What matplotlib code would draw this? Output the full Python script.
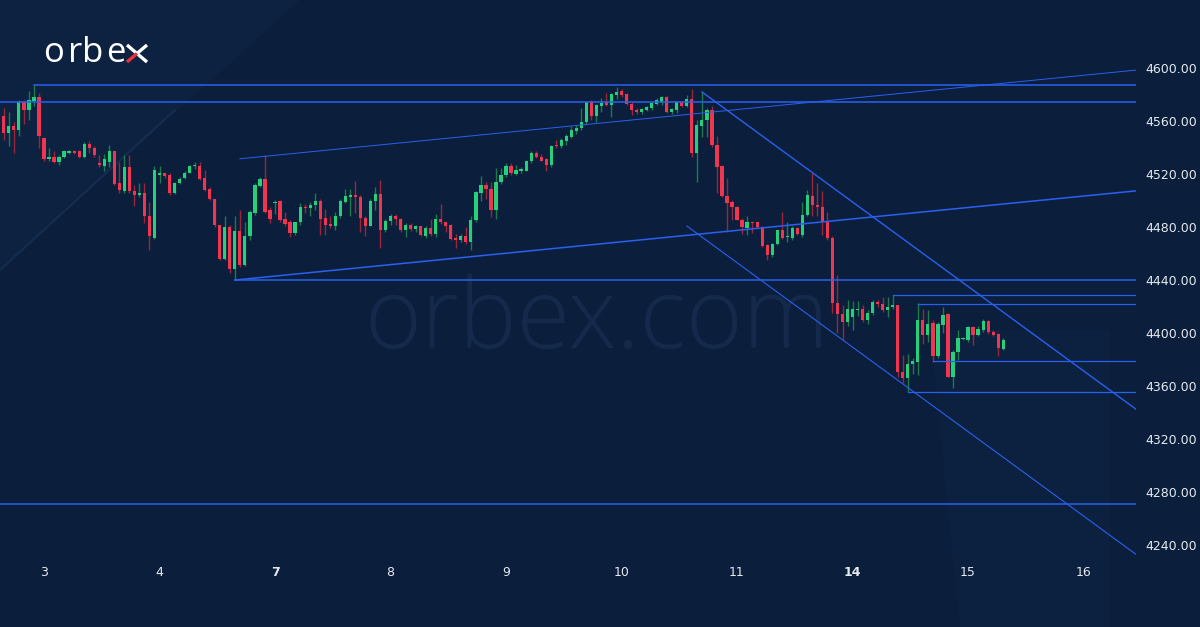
import matplotlib
matplotlib.use('Agg')
import matplotlib.pyplot as plt
from matplotlib.lines import Line2D
import numpy as np

# hourly bars, Feb 2 (partial) .. Feb 15
opens = [4578, 4564, 4551, 4556, 4553, 4574, 4568, 4575, 4578, 4547,
         4531, 4533, 4529, 4533, 4536, 4537, 4537, 4533, 4543, 4540,
         4528, 4526, 4529, 4537, 4513, 4507, 4525, 4507, 4504, 4505.5,
         4488, 4472, 4519.5, 4520.5, 4519, 4506, 4513, 4517, 4521, 4526,
         4526, 4517, 4508.5, 4501.5, 4481.5, 4456, 4480, 4448.5, 4477, 4451.5,
         4473, 4490.5, 4511, 4516, 4492.5, 4498, 4500, 4486, 4483.5, 4475.5,
         4483.5, 4495.5, 4494, 4497, 4499.5, 4487, 4482, 4480.5, 4488, 4499,
         4502.5, 4504.5, 4503, 4487, 4481, 4500, 4505, 4477.5, 4484.5, 4488,
         4486, 4478, 4481.5, 4478.5, 4480.5, 4473, 4479, 4475, 4486, 4483.5,
         4481.5, 4472, 4470.5, 4473, 4469, 4485, 4506, 4511.5, 4509, 4492.5,
         4514, 4519, 4526, 4520, 4522.5, 4522.5, 4530, 4536, 4533, 4531,
         4526.5, 4542, 4541, 4545, 4548, 4552.5, 4554.5, 4559.5, 4574, 4564,
         4571.5, 4574, 4572, 4580, 4583, 4580.5, 4573, 4568.5, 4566.5, 4568.5,
         4569.5, 4573, 4574.5, 4578, 4566.5, 4568.5, 4574, 4571, 4576.5, 4536,
         4556, 4560.5, 4568, 4542, 4526, 4503.5, 4499, 4495.5, 4485.5, 4479.5,
         4483.5, 4483.5, 4480, 4466.5, 4459, 4467, 4477.5, 4472.5, 4472, 4479.5,
         4474, 4489, 4503.5, 4497, 4495.5, 4484, 4472, 4423, 4414.5, 4408.5,
         4412.5, 4417.5, 4418.5, 4410, 4415, 4423.5, 4422, 4417.5, 4419.5, 4421,
         4371, 4366, 4377, 4378.5, 4409.5, 4398.5, 4407.5, 4382.5, 4406, 4414.5,
         4367, 4386, 4395.5, 4394.5, 4404.5, 4398.5, 4402, 4409, 4401, 4399,
         4388]
highs = [4581, 4570, 4567, 4559, 4576, 4576, 4583, 4587, 4581, 4548,
         4540, 4537, 4534, 4538, 4538, 4538, 4538, 4544, 4545, 4541,
         4534, 4535, 4542, 4537.5, 4529, 4534, 4534, 4512, 4513, 4513,
         4499, 4526, 4526, 4521, 4521, 4514, 4517.5, 4522, 4527, 4529,
         4529, 4523, 4510.5, 4501.5, 4481.5, 4488, 4481.5, 4488, 4492.5, 4484,
         4493, 4513, 4517.5, 4534.5, 4495.5, 4500.5, 4500.5, 4491.5, 4485.5, 4484,
         4498.5, 4497.5, 4499, 4505.5, 4501.5, 4493.5, 4488, 4491.5, 4501.5, 4509,
         4509, 4514.5, 4504, 4488, 4501, 4510.5, 4515.5, 4486, 4489.5, 4490,
         4487, 4483, 4483, 4481.5, 4481, 4480.5, 4486, 4490, 4497.5, 4484,
         4482.5, 4475, 4475, 4480, 4488.5, 4507, 4518.5, 4514, 4514, 4524.5,
         4524.5, 4528, 4528.5, 4527, 4525, 4530.5, 4537, 4537.5, 4535, 4532,
         4542, 4546, 4547, 4550, 4556, 4557, 4569.5, 4574.5, 4576, 4573,
         4577, 4581.5, 4581.5, 4586, 4584.5, 4581, 4574, 4570, 4570, 4571.5,
         4574, 4577, 4578.5, 4579, 4570, 4574.5, 4574.5, 4579.5, 4584, 4561,
         4582, 4569.5, 4571, 4548.5, 4527, 4517, 4500.5, 4496, 4486.5, 4488.5,
         4484, 4484, 4481, 4467.5, 4468, 4478, 4491, 4483.5, 4480.5, 4480,
         4499, 4508, 4521, 4513.5, 4507, 4491.5, 4473, 4444, 4421, 4425,
         4424, 4424.5, 4421, 4417.5, 4425, 4425, 4427.5, 4427.5, 4428.5, 4421.5,
         4383.5, 4384.5, 4381, 4422.5, 4418.5, 4417.5, 4410, 4408.5, 4420, 4415,
         4387, 4402.5, 4397, 4405, 4405, 4405, 4411, 4410, 4402.5, 4400,
         4396]
lows = [4560, 4546, 4541, 4536, 4549, 4558, 4561, 4571, 4540, 4530,
        4530, 4528, 4527, 4532, 4535, 4535, 4532, 4532, 4536, 4533,
        4525, 4522, 4525, 4512, 4506, 4506, 4506, 4496, 4503, 4483,
        4463, 4471, 4513, 4517, 4504, 4505, 4512.5, 4516, 4521, 4524,
        4515.5, 4507, 4500.5, 4480, 4455, 4455, 4445.5, 4440, 4450, 4450.5,
        4470, 4489, 4510.5, 4490.5, 4483, 4490, 4484, 4480.5, 4472.5, 4474,
        4481.5, 4490.5, 4488, 4493, 4474, 4474, 4479, 4478, 4486.5, 4498,
        4488, 4490.5, 4476.5, 4473, 4480.5, 4493, 4464, 4476.5, 4481.5, 4481.5,
        4476.5, 4472.5, 4477, 4476.5, 4473, 4472, 4473, 4472.5, 4482.5, 4476.5,
        4470, 4464.5, 4469, 4467.5, 4462.5, 4484, 4500, 4501.5, 4487.5, 4486,
        4512.5, 4518, 4519, 4519, 4521, 4522, 4528.5, 4532, 4529.5, 4522,
        4525.5, 4540, 4540, 4542, 4547, 4550, 4553, 4557.5, 4561, 4559,
        4567, 4571, 4563, 4576.5, 4578, 4572, 4564.5, 4565, 4565, 4567.5,
        4568, 4572, 4572, 4566, 4565.5, 4566, 4570.5, 4570.5, 4533, 4514,
        4548, 4548, 4540.5, 4506, 4503, 4476.5, 4485.5, 4485, 4475, 4474,
        4475.5, 4479, 4465, 4455.5, 4457.5, 4466.5, 4471, 4469, 4470.5, 4474,
        4472.5, 4488, 4488, 4488, 4474, 4470, 4415, 4400, 4395, 4405,
        4402.5, 4413, 4408.5, 4407, 4413.5, 4420, 4416, 4412.5, 4418.5, 4367,
        4362, 4355.5, 4369.5, 4368.5, 4392, 4393.5, 4378.5, 4381, 4400, 4366.5,
        4358.5, 4379.5, 4395, 4393.5, 4391, 4398, 4401, 4399.5, 4397.5, 4382.5,
        4387]
closes = [4563, 4551, 4556, 4553, 4574, 4568, 4576, 4578, 4549, 4531,
          4533, 4529, 4533, 4537, 4537, 4536, 4533, 4543, 4540, 4534,
          4527, 4531, 4537, 4512.5, 4508, 4525, 4507, 4504, 4506, 4488,
          4473, 4523, 4520.5, 4518.5, 4506, 4513.5, 4516, 4521, 4526, 4527,
          4516, 4508, 4501, 4481.5, 4456, 4480, 4448.5, 4477, 4451.5, 4473.5,
          4491, 4511.5, 4516, 4491.5, 4486, 4499, 4485.5, 4482.5, 4475.5, 4483.5,
          4495.5, 4494, 4497, 4499.5, 4486, 4481.5, 4480.5, 4488, 4500, 4503.5,
          4504.5, 4502.5, 4486.5, 4481, 4500, 4505, 4477.5, 4484.5, 4488, 4486,
          4478, 4481.5, 4478.5, 4480.5, 4474, 4479, 4475, 4486, 4483.5, 4481,
          4471, 4470.5, 4473, 4469, 4485, 4506.5, 4511.5, 4508.5, 4492.5, 4514,
          4519, 4526, 4520.5, 4523, 4523.5, 4530, 4536, 4532.5, 4530, 4526.5,
          4541.5, 4541, 4546, 4548.5, 4553, 4555, 4559.5, 4574, 4564, 4572,
          4573.5, 4572, 4580.5, 4582, 4579.5, 4573, 4568, 4566.5, 4569, 4570.5,
          4573.5, 4575.5, 4578, 4566.5, 4569, 4574, 4571, 4576.5, 4536, 4557,
          4560.5, 4568, 4542, 4525.5, 4503.5, 4498.5, 4495, 4485.5, 4480, 4483.5,
          4483, 4480, 4466, 4459, 4467, 4477.5, 4472, 4473.5, 4479.5, 4474.5,
          4489, 4504, 4496.5, 4495.5, 4484, 4471.5, 4422.5, 4414.5, 4408.5, 4418.5,
          4418.5, 4418.5, 4410, 4415, 4423.5, 4422, 4417.5, 4420, 4421, 4371,
          4366, 4377, 4379, 4409.5, 4398.5, 4407, 4382.5, 4407, 4413.5, 4367,
          4386, 4396, 4396.5, 4404.5, 4398.5, 4403, 4409, 4400.5, 4398.5, 4388.5,
          4394.5]

day_bars = [9, 32, 55, 78, 101, 124, 147, 170, 193, 216]
day_labels = ['3', '4', '7', '8', '9', '10', '11', '14', '15', '16']
price_ticks = [4240, 4280, 4320, 4360, 4400, 4440, 4480, 4520, 4560, 4600]

# drawn levels: (start bar, price)
hlevels = [(7, 4587), (0, 4574.3), (47, 4440), (0, 4271),
           (178, 4429), (183, 4422), (186, 4379), (181, 4355.5)]
rise_lower = (47, 4440)
rise_upper = (48, 4531.5)
rise_slope = 0.375
fall_upper = (140, 4582)
fall_lower = (137, 4480.8)
fall_slope = -2.77

bg = '#0b1f3c'
green, red = '#26cf7a', '#ef3550'
green_w, red_w = '#1d7a4b', '#9c2639'
blue = '#2a5ff0'
txt = '#e4e9f0'

W, H = 1200, 627
fig = plt.figure(figsize=(W / 100, H / 100), dpi=100, facecolor=bg)

# faint background decoration
def fpoly(pts, color, alpha):
    pts = [(x / W, 1 - y / H) for x, y in pts]
    fig.add_artist(plt.Polygon(pts, closed=True, transform=fig.transFigure,
                               facecolor=color, edgecolor='none', alpha=alpha, zorder=0))

def fline(pts, color, lw, alpha):
    xs = [x / W for x, y in pts]
    ys = [1 - y / H for x, y in pts]
    fig.add_artist(Line2D(xs, ys, transform=fig.transFigure, color=color, lw=lw, alpha=alpha, zorder=0))

fpoly([(0, 0), (300, 0), (0, 270)], '#13284a', 0.3)
fline([(0, 270), (175, 110)], '#1d3558', 1.5, 0.6)
fpoly([(930, 330), (1110, 330), (1110, 627), (960, 627)], '#10274a', 0.3)

left, right = 0, 1136 / W
bottom = (H - 560) / H
ax = fig.add_axes([left, bottom, right - left, 1 - bottom])
ax.set_facecolor('none')
for s in ax.spines.values():
    s.set_visible(False)

ax.set_xlim(0.24, 226.44)
ax.set_ylim(4228.8, 4651.3)

# watermark
ax.text(0.525, 1 - 348 / 560, 'orbex.com', transform=ax.transAxes, ha='center', va='baseline',
        fontsize=70, color='#15294a', family='Open Sans', fontweight='light', zorder=0)

x = np.arange(len(opens))
o, h, l, c = map(np.array, (opens, highs, lows, closes))
up = c >= o
ax.vlines(x[up], l[up], h[up], color=green_w, lw=1, zorder=2)
ax.vlines(x[~up], l[~up], h[~up], color=red_w, lw=1, zorder=2)
body = np.maximum(np.abs(c - o), 0.45)
ax.bar(x[up], body[up], bottom=np.minimum(o, c)[up], width=0.64, color=green, lw=0, zorder=3)
ax.bar(x[~up], body[~up], bottom=np.minimum(o, c)[~up], width=0.64, color=red, lw=0, zorder=3)

xr = 226.44
for x0, p in hlevels:
    lw = 1.1 if x0 < 170 else 0.9
    ax.plot([x0, xr], [p, p], color=blue, lw=lw, zorder=4)
for (x0, p), lw in [(rise_lower, 1.1), (rise_upper, 0.7)]:
    ax.plot([x0, xr], [p, p + rise_slope * (xr - x0)], color=blue, lw=lw, zorder=4)
for (x0, p), lw in [(fall_upper, 1.0), (fall_lower, 0.8)]:
    ax.plot([x0, xr], [p, p + fall_slope * (xr - x0)], color=blue, lw=lw, zorder=4)

ax.yaxis.tick_right()
ax.set_yticks(price_ticks)
ax.set_yticklabels([f'{v:.2f}' for v in price_ticks])
ax.set_xticks(day_bars)
ax.set_xticklabels(day_labels)
for lab in ax.get_xticklabels():
    if lab.get_text() in ('7', '14'):
        lab.set_fontweight('bold')
ax.tick_params(axis='both', length=0, colors=txt, labelsize=9)
ax.tick_params(axis='y', pad=7)
ax.tick_params(axis='x', pad=4)

# logo
for ch, px in zip('orbe', [43, 68, 82, 106]):
    fig.text(px / W, 1 - 62 / H, ch, fontsize=25, color='white', family='Open Sans',
             ha='left', va='baseline')
fig.add_artist(Line2D([127 / W, 147 / W], [1 - 45 / H, 1 - 62 / H], transform=fig.transFigure,
                      color='white', lw=2.4, solid_capstyle='butt'))
fig.add_artist(Line2D([147 / W, 137 / W], [1 - 45 / H, 1 - 53.5 / H], transform=fig.transFigure,
                      color='white', lw=2.4, solid_capstyle='butt'))
fig.add_artist(Line2D([137 / W, 127 / W], [1 - 53.5 / H, 1 - 62 / H], transform=fig.transFigure,
                      color='#e8303f', lw=2.4, solid_capstyle='butt'))

fig.savefig('out.png', dpi=100, facecolor=bg)
